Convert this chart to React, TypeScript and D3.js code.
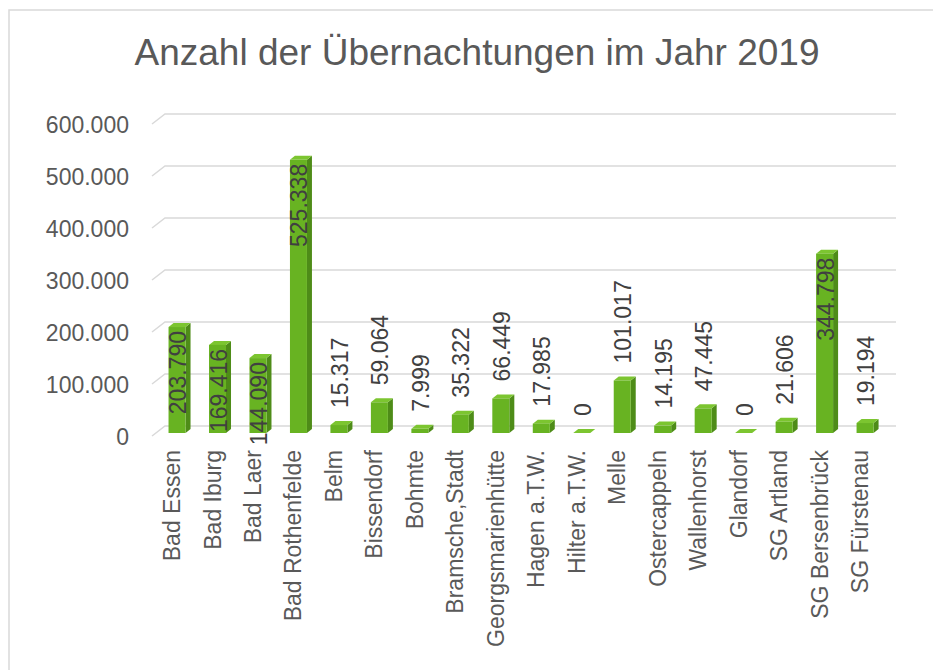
import React from "react";
import * as d3 from "d3";

const title = "Anzahl der Übernachtungen im Jahr 2019";
const categories = [
  "Bad Essen", "Bad Iburg", "Bad Laer", "Bad Rothenfelde", "Belm", "Bissendorf",
  "Bohmte", "Bramsche,Stadt", "Georgsmarienhütte", "Hagen a.T.W.", "Hilter a.T.W.",
  "Melle", "Ostercappeln", "Wallenhorst", "Glandorf", "SG Artland", "SG Bersenbrück",
  "SG Fürstenau",
];
const values = [
  203790, 169416, 144090, 525338, 15317, 59064, 7999, 35322, 66449, 17985, 0,
  101017, 14195, 47445, 0, 21606, 344798, 19194,
];
const yTicks = [0, 100000, 200000, 300000, 400000, 500000, 600000];

const W = 933;
const H = 670;
const FONT = "'Liberation Sans', Arial, sans-serif";
const fmt = (v: number) => (v === 0 ? "0" : d3.format(",")(v).replace(/,/g, "."));

export default function App() {
  // bar base (mid-depth) scale
  const y = d3.scaleLinear().domain([0, 600000]).range([433, 121]);
  const x = d3.scaleBand<string>().domain(categories).range([156.8, 885.3]).padding(0);
  const backDx = 13;
  const backDy = -10;
  const frontOff = 3; // gridline front vs bar base
  const gridLeft = 152;
  const gridRight = 896;
  const barW = 17;
  const depthX = 5;
  const depthY = -4;

  return (
    <svg
      width={W}
      height={H}
      style={{ position: "absolute", left: 0, top: 0, background: "#fff" }}
      fontFamily={FONT}
    >
      <rect x={9} y={10} width={W + 10} height={H + 10} fill="#fff" stroke="#d9d9d9" strokeWidth={1.5} />
      <text x={477} y={65} textAnchor="middle" fontSize={37} fill="#595959">
        {title}
      </text>
      {/* gridlines */}
      {yTicks.map((t) => {
        const fy = y(t) + frontOff;
        return (
          <g key={t}>
            <path
              d={`M${gridLeft},${fy} L${gridLeft + backDx},${fy + backDy} L${gridRight},${fy + backDy}`}
              fill="none"
              stroke="#d9d9d9"
              strokeWidth={1.5}
            />
            <text x={129} y={fy + 1} textAnchor="end" dominantBaseline="central" fontSize={23} fill="#595959">
              {fmt(t)}
            </text>
          </g>
        );
      })}
      {/* bars */}
      {categories.map((c, i) => {
        const v = values[i];
        const cx = (x(c) as number) + x.bandwidth() / 2;
        const x0 = cx - barW / 2;
        const x1 = cx + barW / 2;
        const yb = y(0);
        const yt = y(v);
        return (
          <g key={c}>
            <polygon
              points={`${x1},${yb} ${x1 + depthX},${yb + depthY} ${x1 + depthX},${yt + depthY} ${x1},${yt}`}
              fill="#4e8c18"
            />
            <polygon
              points={`${x0},${yt} ${x0 + depthX},${yt + depthY} ${x1 + depthX},${yt + depthY} ${x1},${yt}`}
              fill="#7cc530"
            />
            <rect x={x0} y={yt} width={barW} height={Math.max(0, yb - yt)} fill="#68b322" />
          </g>
        );
      })}
      {/* data labels */}
      {categories.map((c, i) => {
        const v = values[i];
        const cx = (x(c) as number) + x.bandwidth() / 2 + 1;
        const yt = y(v);
        const inside = v > 140000;
        const ly = inside ? yt + 4 : yt - 17;
        return (
          <text
            key={c}
            transform={`translate(${cx},${ly}) rotate(-90)`}
            textAnchor={inside ? "end" : "start"}
            dominantBaseline="central"
            fontSize={23}
            fill="#404040"
          >
            {fmt(v)}
          </text>
        );
      })}
      {/* category labels */}
      {categories.map((c) => {
        const cx = (x(c) as number) + x.bandwidth() / 2 - 5;
        return (
          <text
            key={c}
            transform={`translate(${cx},450) rotate(-90)`}
            textAnchor="end"
            dominantBaseline="central"
            fontSize={23}
            fill="#595959"
          >
            {c}
          </text>
        );
      })}
    </svg>
  );
}
